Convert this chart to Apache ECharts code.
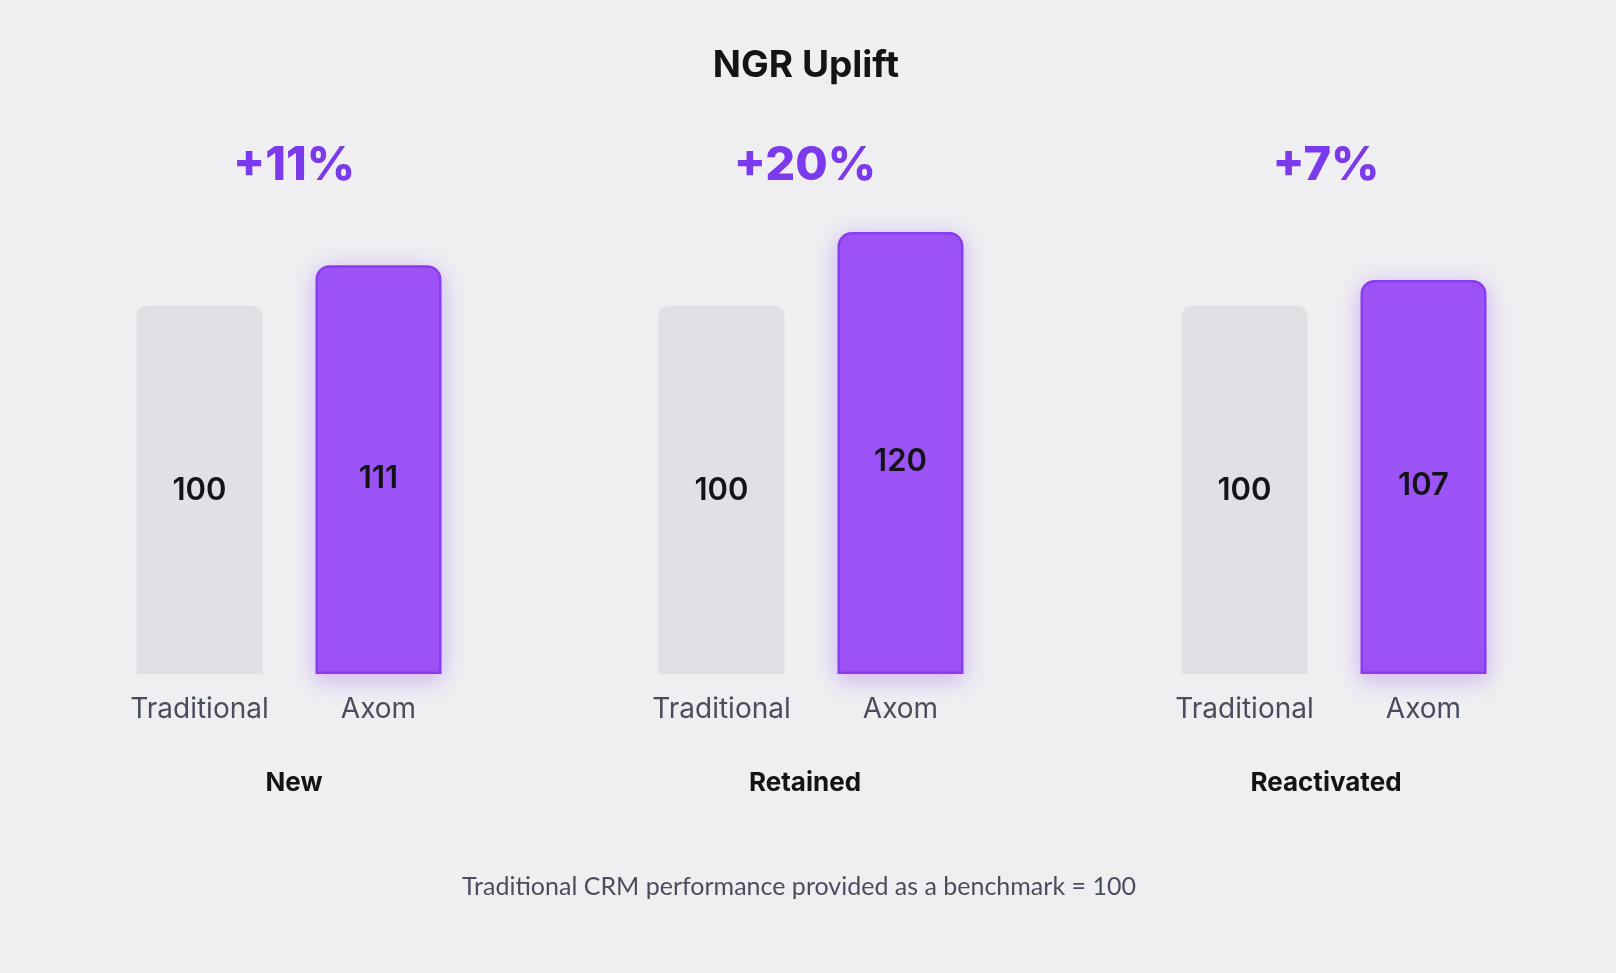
<!DOCTYPE html>
<html lang="en">
<head>
    <meta charset="UTF-8">
    <title>NGR Uplift</title>
    <script src="https://cdn.jsdelivr.net/npm/echarts@6/dist/echarts.min.js"></script>
    <style>
        html, body { margin: 0; padding: 0; background: #efeff2; }
        #chart { width: 1616px; height: 973px; }
    </style>
</head>
<body>
    <div id="chart"></div>
    <script>
        // data
        var groups = ['New', 'Retained', 'Reactivated'];
        var barNames = ['Traditional', 'Axom'];
        var traditional = [100, 100, 100];
        var axom = [111, 120, 107];
        var chartTitle = 'NGR Uplift';
        var footnote = 'Traditional CRM performance provided as a benchmark = 100';

        var myChart = echarts.init(document.getElementById('chart'));

        var gridLeft = [110, 632, 1155];   // one grid per group
        var gridW = 358;
        var labelX = [294, 805, 1326];     // group label / uplift centres

        var grids = [], xAxes = [], yAxes = [], series = [], texts = [];

        // centred text helper
        function centreText(str, x, y, font, fill) {
            return {
                type: 'text', x: x, y: y,
                style: {
                    text: str, font: font, fill: fill,
                    align: 'center', verticalAlign: 'middle',
                    textAlign: 'center', textVerticalAlign: 'middle'
                }
            };
        }

        groups.forEach(function (g, i) {
            grids.push({ left: gridLeft[i], width: gridW, top: 232, bottom: 299 });
            xAxes.push({
                gridIndex: i,
                type: 'category',
                data: barNames,
                axisLine: { show: false },
                axisTick: { show: false },
                axisLabel: {
                    interval: 0,
                    margin: 22,
                    fontSize: 28,
                    fontFamily: 'Inter',
                    color: '#4a4d5c'
                }
            });
            yAxes.push({
                gridIndex: i,
                type: 'value',
                min: 0,
                max: 120,
                show: false,
                splitLine: { show: false }
            });
            series.push({
                type: 'bar',
                xAxisIndex: i,
                yAxisIndex: i,
                barWidth: 126,
                label: {
                    show: true,
                    position: 'inside',
                    fontSize: 31,
                    fontWeight: 600,
                    fontFamily: 'Inter',
                    color: '#141418'
                },
                data: [
                    {
                        value: traditional[i],
                        label: { offset: [0, 1] },
                        itemStyle: { color: '#e1e1e5', borderRadius: [10, 10, 0, 0] }
                    },
                    {
                        value: axom[i],
                        label: { offset: [0, 9] },
                        itemStyle: {
                            color: '#9d54f6',
                            borderColor: '#8a3cf0',
                            borderWidth: 2.5,
                            borderRadius: [13, 13, 0, 0],
                            shadowColor: 'rgba(140,70,240,0.35)',
                            shadowBlur: 22,
                            shadowOffsetY: 5
                        }
                    }
                ]
            });

            var pct = Math.round((axom[i] - traditional[i]) / traditional[i] * 100);
            texts.push(centreText('+' + pct + '%', labelX[i], 166, '800 47px Inter', '#7c3aed'));
            texts.push(centreText(g, labelX[i], 783, '700 26px Inter', '#141418'));
        });

        texts.push(centreText(chartTitle, 806, 66, '700 37px Inter', '#141418'));
        texts.push(centreText(footnote, 799, 887, '400 25px Lato', '#4a4d5c'));

        var option = {
            backgroundColor: '#efeff2',
            animation: false,
            grid: grids,
            xAxis: xAxes,
            yAxis: yAxes,
            series: series,
            graphic: texts
        };
        myChart.setOption(option);
    </script>
</body>
</html>
